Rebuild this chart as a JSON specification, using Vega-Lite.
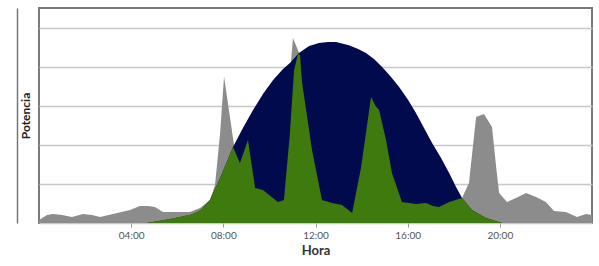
{
  "$schema": "https://vega.github.io/schema/vega-lite/v6.json",
  "autosize": {"type": "none"},
  "padding": {"left": 39, "top": 8, "right": 7, "bottom": 43},
  "width": 553,
  "height": 215,
  "background": "white",
  "config": {
    "view": {"stroke": "#7a7a7a", "strokeWidth": 2},
    "font": "Lato"
  },
  "datasets": {
    "consumo": [
      {"h": 0, "v": 1.5}, {"h": 0.35, "v": 4.1}, {"h": 0.61, "v": 4.6}, {"h": 1.0, "v": 4.1},
      {"h": 1.43, "v": 3.1}, {"h": 1.91, "v": 4.6}, {"h": 2.3, "v": 4.1}, {"h": 2.65, "v": 3.1},
      {"h": 3.39, "v": 5.1}, {"h": 3.95, "v": 6.6}, {"h": 4.38, "v": 8.7}, {"h": 4.73, "v": 8.7},
      {"h": 5.03, "v": 8.2}, {"h": 5.38, "v": 5.6}, {"h": 6.55, "v": 5.6}, {"h": 6.99, "v": 7.7},
      {"h": 7.42, "v": 11.8}, {"h": 7.64, "v": 19.4}, {"h": 7.86, "v": 46}, {"h": 8.03, "v": 75},
      {"h": 8.29, "v": 54}, {"h": 8.5, "v": 37}, {"h": 8.72, "v": 30.7}, {"h": 9.07, "v": 42.5},
      {"h": 9.38, "v": 17.9}, {"h": 9.72, "v": 16.9}, {"h": 10.37, "v": 10.7}, {"h": 10.6, "v": 11.8},
      {"h": 10.76, "v": 46}, {"h": 10.94, "v": 83}, {"h": 11.02, "v": 94.6}, {"h": 11.15, "v": 91},
      {"h": 11.33, "v": 86}, {"h": 11.42, "v": 71.6}, {"h": 11.85, "v": 37.3}, {"h": 12.28, "v": 11.8},
      {"h": 12.72, "v": 10.2}, {"h": 13.15, "v": 9.2}, {"h": 13.59, "v": 5.1}, {"h": 13.98, "v": 28.6},
      {"h": 14.41, "v": 64.5}, {"h": 14.6, "v": 60}, {"h": 14.76, "v": 57.8}, {"h": 15.06, "v": 42.5},
      {"h": 15.32, "v": 25.6}, {"h": 15.75, "v": 10.7}, {"h": 16.36, "v": 9.7}, {"h": 16.8, "v": 10.2},
      {"h": 17.1, "v": 8.7}, {"h": 17.36, "v": 8.2}, {"h": 17.8, "v": 10.7}, {"h": 18.36, "v": 12.8},
      {"h": 18.66, "v": 20.5}, {"h": 18.97, "v": 54.2}, {"h": 19.31, "v": 55.8}, {"h": 19.66, "v": 49.1},
      {"h": 19.84, "v": 28.6}, {"h": 19.97, "v": 15.3}, {"h": 20.31, "v": 10.7}, {"h": 20.7, "v": 12.8},
      {"h": 21.14, "v": 15.3}, {"h": 21.57, "v": 13.3}, {"h": 22.0, "v": 10.7}, {"h": 22.35, "v": 6.1},
      {"h": 22.87, "v": 5.6}, {"h": 23.35, "v": 3.1}, {"h": 23.74, "v": 4.6}, {"h": 24, "v": 4.1}
    ],
    "solar": [
      {"h": 4.69, "v": 0}, {"h": 5.69, "v": 2}, {"h": 6.55, "v": 4.1}, {"h": 6.99, "v": 6.1},
      {"h": 7.42, "v": 11.8}, {"h": 7.86, "v": 23}, {"h": 8.42, "v": 38.9}, {"h": 8.85, "v": 48.6},
      {"h": 9.29, "v": 57.8}, {"h": 9.72, "v": 66}, {"h": 10.16, "v": 73.1}, {"h": 10.59, "v": 78.8},
      {"h": 10.89, "v": 81.8}, {"h": 11.28, "v": 87}, {"h": 11.72, "v": 90.5}, {"h": 12.15, "v": 92.1},
      {"h": 12.54, "v": 92.6}, {"h": 12.89, "v": 92.6}, {"h": 13.45, "v": 91}, {"h": 13.85, "v": 89},
      {"h": 14.19, "v": 87}, {"h": 14.54, "v": 83.9}, {"h": 14.89, "v": 79.8}, {"h": 15.28, "v": 74.7},
      {"h": 15.63, "v": 69.6}, {"h": 16.02, "v": 62.9}, {"h": 16.36, "v": 56.3}, {"h": 16.71, "v": 48.6},
      {"h": 17.06, "v": 40.9}, {"h": 17.45, "v": 33.2}, {"h": 17.8, "v": 25.6}, {"h": 18.1, "v": 18.4},
      {"h": 18.36, "v": 12.8}, {"h": 18.79, "v": 6.6}, {"h": 19.4, "v": 2.6}, {"h": 20.1, "v": 0}
    ],
    "autoconsumo": [
      {"h": 4.69, "v": 0}, {"h": 5.69, "v": 2}, {"h": 6.68, "v": 4.6}, {"h": 6.99, "v": 6.6},
      {"h": 7.2, "v": 8.7}, {"h": 7.42, "v": 11.8}, {"h": 7.86, "v": 23}, {"h": 8.42, "v": 38.9},
      {"h": 8.72, "v": 30.7}, {"h": 9.07, "v": 42.5}, {"h": 9.38, "v": 17.9}, {"h": 9.72, "v": 16.9},
      {"h": 10.37, "v": 10.7}, {"h": 10.63, "v": 11.8}, {"h": 10.89, "v": 46}, {"h": 11.07, "v": 78.3},
      {"h": 11.24, "v": 86.5}, {"h": 11.33, "v": 86}, {"h": 11.42, "v": 71.6}, {"h": 11.85, "v": 37.3},
      {"h": 12.28, "v": 11.8}, {"h": 12.72, "v": 10.2}, {"h": 13.15, "v": 9.2}, {"h": 13.59, "v": 5.1},
      {"h": 13.98, "v": 28.6}, {"h": 14.41, "v": 64.5}, {"h": 14.6, "v": 60}, {"h": 14.76, "v": 57.8},
      {"h": 15.06, "v": 42.5}, {"h": 15.32, "v": 25.6}, {"h": 15.75, "v": 10.7}, {"h": 16.36, "v": 9.7},
      {"h": 16.8, "v": 10.2}, {"h": 17.1, "v": 8.7}, {"h": 17.36, "v": 8.2}, {"h": 17.8, "v": 10.7},
      {"h": 18.36, "v": 12.8}, {"h": 18.79, "v": 6.6}, {"h": 19.4, "v": 2.6}, {"h": 20.1, "v": 0}
    ]
  },
  "encoding": {
    "x": {
      "field": "h", "type": "quantitative",
      "scale": {"domain": [0, 24], "nice": false, "zero": false},
      "axis": {
        "title": "Hora", "titleFontWeight": "bold", "titleFontSize": 13, "titleColor": "#333",
        "titlePadding": 4,
        "values": [4, 8, 12, 16, 20],
        "labelExpr": "(datum.value < 10 ? '0' : '') + datum.value + ':00'",
        "labelFontSize": 10, "labelColor": "#555", "labelPadding": 3,
        "grid": false, "domain": false,
        "ticks": true, "tickColor": "#999", "tickSize": 4, "tickWidth": 1
      }
    },
    "y": {
      "field": "v", "type": "quantitative",
      "scale": {"domain": [0, 110], "nice": false},
      "axis": {
        "title": "Potencia", "titleFontWeight": "bold", "titleFontSize": 12, "titleColor": "#222",
        "titleBaseline": "middle", "titleX": 8,
        "values": [0, 20, 40, 60, 80, 100],
        "labels": false, "ticks": false,
        "domain": true, "domainColor": "#777", "domainWidth": 1.5, "offset": 22,
        "grid": true, "gridColor": "#c8c8c8", "gridWidth": 1.5
      }
    }
  },
  "layer": [
    {"data": {"name": "consumo"}, "mark": {"type": "area", "color": "#8c8c8c", "opacity": 1}},
    {"data": {"name": "solar"}, "mark": {"type": "area", "color": "#020a4e", "opacity": 1}},
    {"data": {"name": "autoconsumo"}, "mark": {"type": "area", "color": "#3f7a0e", "opacity": 1}}
  ]
}
